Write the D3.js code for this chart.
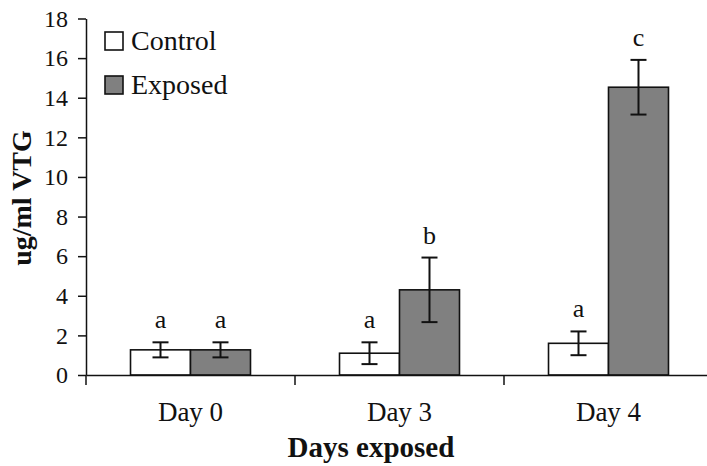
<!DOCTYPE html>
<html>
<head>
<meta charset="utf-8">
<script src="https://cdn.jsdelivr.net/npm/d3@7"></script>
<style>
  body { margin: 0; background: #fff; }
  svg text { font-family: "Liberation Serif", "Times New Roman", serif !important; }
</style>
</head>
<body>
<div class="chart"></div>
<script>
// data
const days = ["Day 0", "Day 3", "Day 4"];
const series = ["Control", "Exposed"];
const control = [1.27, 1.1, 1.6];
const controlErr = [0.38, 0.55, 0.6];
const exposed = [1.27, 4.3, 14.53];
const exposedErr = [0.38, 1.63, 1.38];
const controlLetters = ["a", "a", "a"];
const exposedLetters = ["a", "b", "c"];
const yTicks = [0, 2, 4, 6, 8, 10, 12, 14, 16, 18];

const colors = { Control: "#ffffff", Exposed: "#808080" };
const serif = "Liberation Serif";

const svg = d3.select(".chart").append("svg")
  .attr("width", 707)
  .attr("height", 466);

const x0 = d3.scaleBand().domain(days).range([86, 713]);
const x1 = d3.scaleBand().domain(series).range([0, x0.bandwidth()]).paddingOuter(0.742);
const y = d3.scaleLinear().domain([0, 18]).range([375, 18.5]);

// rows: one per bar
const rows = [];
days.forEach((d, i) => {
  rows.push({ day: d, s: "Control", v: control[i], e: controlErr[i], l: controlLetters[i] });
  rows.push({ day: d, s: "Exposed", v: exposed[i], e: exposedErr[i], l: exposedLetters[i] });
});

// bars
svg.append("g").selectAll("rect")
  .data(rows)
  .join("rect")
  .attr("x", d => x0(d.day) + x1(d.s))
  .attr("y", d => y(d.v))
  .attr("width", x1.bandwidth())
  .attr("height", d => y(0) - y(d.v))
  .attr("fill", d => colors[d.s])
  .attr("stroke", "#111")
  .attr("stroke-width", 1.6);

// error bars
const eb = svg.append("g").attr("stroke", "#111").attr("stroke-width", 2);
rows.forEach(d => {
  const cx = x0(d.day) + x1(d.s) + x1.bandwidth() / 2;
  eb.append("line").attr("x1", cx).attr("x2", cx).attr("y1", y(d.v + d.e)).attr("y2", y(d.v - d.e));
  eb.append("line").attr("x1", cx - 8).attr("x2", cx + 8).attr("y1", y(d.v + d.e)).attr("y2", y(d.v + d.e));
  eb.append("line").attr("x1", cx - 8).attr("x2", cx + 8).attr("y1", y(d.v - d.e)).attr("y2", y(d.v - d.e));
});

// significance letters
svg.append("g").selectAll("text")
  .data(rows)
  .join("text")
  .text(d => d.l)
  .attr("x", d => x0(d.day) + x1(d.s) + x1.bandwidth() / 2)
  .attr("y", d => y(d.v + d.e) - 14)
  .attr("text-anchor", "middle")
  .style("font-family", serif)
  .attr("font-size", 26)
  .attr("fill", "#111");

// y axis
const yAxis = svg.append("g")
  .attr("transform", "translate(86,0)")
  .call(d3.axisLeft(y).tickValues(yTicks).tickSize(8).tickSizeOuter(0).tickPadding(10));
yAxis.attr("font-family", serif);
yAxis.select(".domain").attr("stroke", "#111").attr("stroke-width", 1.5);
yAxis.selectAll(".tick line").attr("stroke", "#111").attr("stroke-width", 1.5);
yAxis.selectAll(".tick text")
  .style("font-family", serif)
  .attr("font-size", 24)
  .attr("fill", "#111");

// x axis
const xAxis = svg.append("g")
  .attr("transform", "translate(0,375)")
  .call(d3.axisBottom(x0).tickSize(0).tickSizeOuter(0).tickPadding(27));
xAxis.attr("font-family", serif);
xAxis.select(".domain").attr("stroke", "#111").attr("stroke-width", 1.5);
xAxis.selectAll(".tick text")
  .style("font-family", serif)
  .attr("font-size", 27)
  .attr("fill", "#111");
xAxis.selectAll(".boundary")
  .data(days)
  .join("line")
  .attr("x1", d => x0(d))
  .attr("x2", d => x0(d))
  .attr("y1", 0)
  .attr("y2", 10)
  .attr("stroke", "#111")
  .attr("stroke-width", 1.5);

// axis titles
svg.append("text")
  .text("Days exposed")
  .attr("x", 371)
  .attr("y", 457)
  .attr("text-anchor", "middle")
  .style("font-family", serif)
  .attr("font-size", 29)
  .attr("font-weight", "bold")
  .attr("fill", "#111");

svg.append("text")
  .text("ug/ml VTG")
  .attr("transform", "translate(31,198) rotate(-90)")
  .attr("text-anchor", "middle")
  .style("font-family", serif)
  .attr("font-size", 28)
  .attr("font-weight", "bold")
  .attr("fill", "#111");

// legend
const legend = svg.append("g").selectAll("g")
  .data(series)
  .join("g")
  .attr("transform", (d, i) => `translate(105,${32 + i * 44})`);
legend.append("rect")
  .attr("width", 18)
  .attr("height", 18)
  .attr("fill", d => colors[d])
  .attr("stroke", "#111")
  .attr("stroke-width", 1.6);
legend.append("text")
  .text(d => d)
  .attr("x", 26)
  .attr("y", 18)
  .style("font-family", serif)
  .attr("font-size", 28)
  .attr("fill", "#111");
</script>
</body>
</html>
